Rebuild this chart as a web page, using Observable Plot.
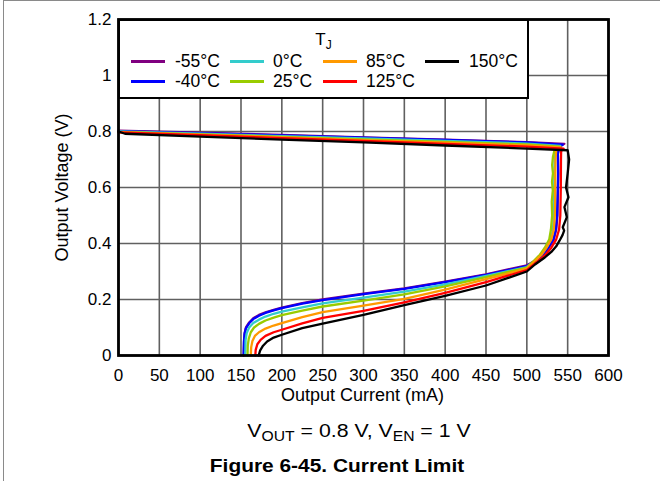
<!DOCTYPE html>
<html>
<head>
<meta charset="utf-8">
<script src="https://cdn.jsdelivr.net/npm/d3@7"></script>
<script src="https://cdn.jsdelivr.net/npm/@observablehq/plot@0.6"></script>
<style>
  html, body { margin: 0; padding: 0; background: #fff; }
  body { width: 660px; height: 481px; overflow: hidden; font-family: "Liberation Sans", Arial, Helvetica, sans-serif; }
  #wrap { position: relative; width: 660px; height: 481px; }
  #border { position: absolute; left: 3px; top: 0px; width: 700px; height: 500px; border-left: 1px solid #8a8a8a; border-top: 1px solid #8a8a8a; }
  #legend { position: absolute; left: 118px; top: 19px; width: 411px; height: 80px; box-sizing: border-box; border: 2.5px solid #000; background: #fff; }
  #legend .ttl { position: absolute; left: 0; width: 100%; top: 9px; text-align: center; font-size: 17px; line-height: 20px; }
  #legend .sw { position: absolute; width: 34px; height: 3px; }
  #legend .lb { position: absolute; font-size: 17.5px; line-height: 20px; white-space: nowrap; }
  #sub { position: absolute; left: 114px; width: 490px; top: 421px; text-align: center; font-size: 19px; line-height: 19px; white-space: nowrap; transform: scaleX(1.12); transform-origin: 245px 0; }
  #sub .s { font-size: 14px; position: relative; top: 4px; }
  #title { position: absolute; left: 0; width: 674px; top: 456px; text-align: center; font-size: 19px; line-height: 19px; font-weight: bold; white-space: nowrap; transform: scaleX(1.1); transform-origin: 337px 0; }
</style>
</head>
<body>
<div id="wrap">
  <div id="border"></div>
  <div id="chart"></div>
  <div id="legend"><div class="ttl">T<span style="font-size:12px;position:relative;top:4px">J</span></div></div>
  <div id="sub">V<span class="s">OUT</span> = 0.8 V, V<span class="s">EN</span> = 1 V</div>
  <div id="title">Figure 6-45. Current Limit</div>
</div>
<script>
// ---- data (Output Current mA, Output Voltage V) ----
const temps = ["-55°C", "-40°C", "0°C", "25°C", "85°C", "125°C", "150°C"];
const colors = ["#800080", "#0000ff", "#33cccc", "#99cc00", "#ff9900", "#ff0000", "#000000"];
const xTicks = [0, 50, 100, 150, 200, 250, 300, 350, 400, 450, 500, 550, 600];
const yTicks = [0, 0.2, 0.4, 0.6, 0.8, 1, 1.2];

const tm55 = [[0,0.803],[100,0.796],[200,0.788],[300,0.779],[400,0.771],[500,0.762],[546,0.756],[540,0.746],[538,0.72],[538.5,0.65],[538,0.58],[537.5,0.5],[536,0.45],[533,0.415],[527,0.385],[520,0.36],[510,0.338],[500,0.322],[450,0.29],[400,0.264],[350,0.24],[300,0.221],[250,0.2],[225,0.187],[200,0.171],[190,0.163],[180,0.154],[172,0.145],[165,0.133],[160,0.118],[156,0.1],[154.5,0.08],[153.8,0.05],[153.3,0]];
const tm40 = [[0,0.801],[100,0.794],[200,0.786],[300,0.778],[400,0.770],[500,0.761],[544,0.753],[539,0.743],[538,0.72],[538.3,0.65],[537.8,0.58],[537,0.5],[535.5,0.45],[532.5,0.415],[526,0.385],[519,0.36],[510,0.337],[500,0.319],[450,0.288],[400,0.262],[350,0.238],[300,0.219],[250,0.198],[225,0.185],[200,0.169],[190,0.161],[180,0.152],[172,0.142],[165,0.13],[160,0.115],[156,0.097],[154.3,0.077],[153.6,0.05],[153.2,0]];
const t0 = [[0,0.80],[100,0.792],[200,0.783],[300,0.775],[400,0.766],[500,0.757],[541,0.749],[535,0.738],[534,0.7],[533.5,0.6],[533,0.5],[532,0.45],[529.5,0.415],[524,0.385],[518,0.36],[509,0.337],[500,0.316],[450,0.284],[400,0.254],[350,0.228],[300,0.207],[250,0.186],[225,0.172],[200,0.157],[190,0.149],[180,0.139],[172,0.128],[165,0.116],[160,0.1],[157,0.08],[155.6,0.055],[155.2,0]];
const t25 = [[0,0.799],[100,0.79],[200,0.781],[300,0.772],[400,0.763],[500,0.754],[540,0.746],[534,0.735],[532,0.71],[531,0.68],[532,0.65],[530.8,0.62],[531.8,0.59],[530.5,0.55],[531,0.5],[529.5,0.45],[527.5,0.415],[522,0.385],[516,0.36],[508,0.336],[500,0.314],[450,0.28],[400,0.247],[350,0.218],[300,0.196],[250,0.175],[225,0.16],[200,0.144],[190,0.135],[180,0.125],[172,0.113],[166,0.1],[162,0.083],[159.5,0.06],[158.3,0.035],[158,0]];
const t85 = [[0,0.798],[100,0.789],[200,0.779],[300,0.769],[400,0.76],[500,0.75],[542,0.743],[536,0.733],[535,0.7],[534.7,0.6],[534.3,0.5],[533,0.45],[530,0.415],[524,0.385],[518,0.36],[509,0.335],[500,0.31],[450,0.273],[400,0.235],[350,0.202],[300,0.178],[250,0.155],[225,0.137],[200,0.116],[190,0.107],[180,0.096],[172,0.083],[167,0.07],[164,0.052],[162.5,0.03],[162,0]];
const t125 = [[0,0.797],[100,0.787],[200,0.776],[300,0.766],[400,0.756],[500,0.746],[545,0.739],[542,0.73],[541.8,0.7],[541.6,0.6],[541,0.5],[539.5,0.45],[536,0.415],[530,0.385],[523,0.36],[512,0.333],[500,0.305],[450,0.262],[400,0.224],[350,0.19],[300,0.159],[250,0.134],[225,0.115],[200,0.092],[190,0.083],[180,0.07],[174,0.056],[170,0.04],[168,0.02],[167.5,0]];
const t150 = [[0,0.80],[8,0.792],[100,0.782],[200,0.771],[300,0.761],[400,0.75],[500,0.739],[550,0.733],[551.8,0.70],[550,0.65],[548,0.60],[551,0.565],[546,0.53],[549,0.494],[544,0.458],[545.7,0.446],[543.7,0.43],[540,0.41],[536,0.39],[530,0.37],[522,0.35],[510,0.325],[500,0.3],[450,0.25],[400,0.213],[350,0.18],[300,0.145],[250,0.114],[225,0.098],[200,0.074],[190,0.064],[182,0.05],[177,0.035],[173.5,0.018],[171.6,0]];

const seriesPts = [tm55, tm40, t0, t25, t85, t125, t150];
const rows = temps.flatMap((t, k) => seriesPts[k].map(([i, v], j) => ({t, i, v, j})));

const font = "'Liberation Sans', Arial, Helvetica, sans-serif";
const chart = Plot.plot({
  width: 660,
  height: 405,
  marginTop: 19,
  marginBottom: 50,
  marginLeft: 118,
  marginRight: 52,
  style: {fontFamily: font, fontSize: "17px", color: "#000", background: "transparent", overflow: "visible"},
  x: {domain: [0, 600], ticks: xTicks, tickSize: 0, tickPadding: 13, tickFormat: d => String(d), label: null},
  y: {domain: [0, 1.2], ticks: yTicks, tickSize: 0, tickPadding: 7, tickFormat: d => String(d), label: null},
  color: {domain: temps, range: colors},
  marks: [
    Plot.ruleX(xTicks, {stroke: "#606060", strokeWidth: 1.6}),
    Plot.ruleY(yTicks, {stroke: "#606060", strokeWidth: 1.6}),
    Plot.line(rows, {x: "i", y: "v", z: "t", stroke: "t", strokeWidth: 2.3, strokeLinejoin: "round", curve: "linear"}),
    Plot.frame({stroke: "#000", strokeWidth: 2.8}),
    Plot.text(["Output Current (mA)"], {text: d => d, frameAnchor: "bottom", lineAnchor: "middle", textAnchor: "middle", dy: 40, dx: -1, fontSize: 18, fill: "#000"}),
    Plot.text(["Output Voltage (V)"], {text: d => d, frameAnchor: "left", lineAnchor: "middle", textAnchor: "middle", rotate: -90, dx: -56, fontSize: 18, fill: "#000"})
  ]
});
document.getElementById("chart").appendChild(chart);

// legend (inside the plot area, drawn as HTML overlay)
const legend = document.getElementById("legend");
const colSw = [11, 110, 203, 305];
const colLb = [55, 153, 246, 349];
const rowY = [40, 60];
temps.forEach((t, k) => {
  const c = Math.floor(k / 2), r = k % 2;
  const sw = document.createElement("div");
  sw.className = "sw";
  sw.style.left = colSw[c] + "px";
  sw.style.top = (rowY[r] - 1.5) + "px";
  sw.style.background = colors[k];
  legend.appendChild(sw);
  const lb = document.createElement("div");
  lb.className = "lb";
  lb.style.left = colLb[c] + "px";
  lb.style.top = (rowY[r] - 10) + "px";
  lb.textContent = t;
  legend.appendChild(lb);
});
</script>
</body>
</html>
